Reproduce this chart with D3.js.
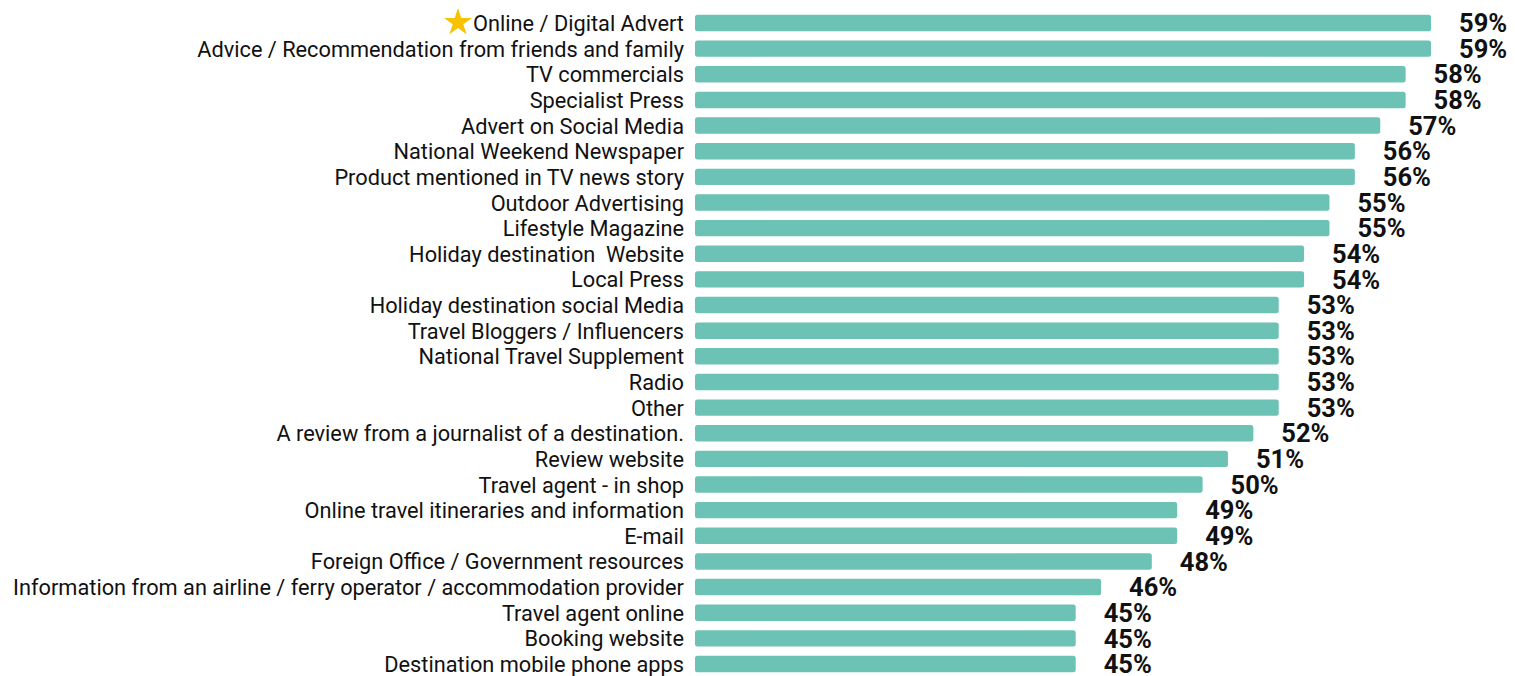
<!DOCTYPE html>
<html><head><meta charset="utf-8">
<script src="https://cdn.jsdelivr.net/npm/d3@7"></script>
<style>html,body{margin:0;padding:0;background:#fff;}svg{display:block;}text{white-space:pre;}</style>
</head><body>
<script>
const categories = [
  "Online / Digital Advert",
  "Advice / Recommendation from friends and family",
  "TV commercials",
  "Specialist Press",
  "Advert on Social Media",
  "National Weekend Newspaper",
  "Product mentioned in TV news story",
  "Outdoor Advertising",
  "Lifestyle Magazine",
  "Holiday destination  Website",
  "Local Press",
  "Holiday destination social Media",
  "Travel Bloggers / Influencers",
  "National Travel Supplement",
  "Radio",
  "Other",
  "A review from a journalist of a destination.",
  "Review website",
  "Travel agent - in shop",
  "Online travel itineraries and information",
  "E-mail",
  "Foreign Office / Government resources",
  "Information from an airline / ferry operator / accommodation provider",
  "Travel agent online",
  "Booking website",
  "Destination mobile phone apps"
];
const values = [59,59,58,58,57,56,56,55,55,54,54,53,53,53,53,53,52,51,50,49,49,48,46,45,45,45];
const highlighted = ["Online / Digital Advert"];

const W = 1515, H = 676;
const svg = d3.select("body").append("svg").attr("width", W).attr("height", H);

const x = d3.scaleLinear().domain([30, 59]).range([695, 1431]);
const y = d3.scaleBand().domain(categories).range([10.2, 676.8]).paddingInner(0.36).paddingOuter(0.18);

const g = svg.append("g");
const rows = g.selectAll("g.row").data(categories).join("g").attr("class","row");

rows.append("rect")
  .attr("x", x(30))
  .attr("y", d => y(d))
  .attr("width", (d,i) => x(values[i]) - x(30))
  .attr("height", y.bandwidth())
  .attr("rx", 2.5)
  .attr("fill", "#6cc2b4");

rows.append("text")
  .attr("x", 684)
  .attr("y", d => y(d) + y.bandwidth()/2)
  .attr("dy", "0.37em")
  .attr("text-anchor", "end")
  .attr("font-family", "Roboto, sans-serif")
  .attr("font-size", 21.75)
  .attr("fill", "#111")
  .text(d => d);

rows.append("text")
  .attr("x", (d,i) => x(values[i]) + 28)
  .attr("y", d => y(d) + y.bandwidth()/2)
  .attr("dy", "0.36em")
  .attr("font-family", "Roboto, sans-serif")
  .attr("font-weight", "bold")
  .attr("font-size", 25.5)
  .attr("fill", "#111")
  .text((d,i) => values[i] + "%");

// star marker for highlighted category
const star = d3.symbol().type(d3.symbolStar).size(240);
g.selectAll("path.star").data(highlighted).join("path")
  .attr("class","star")
  .attr("d", star)
  .attr("transform", d => `translate(458,${y(d) + y.bandwidth()/2 - 0.5})`)
  .attr("fill", "#f7c200");
</script>
</body></html>
